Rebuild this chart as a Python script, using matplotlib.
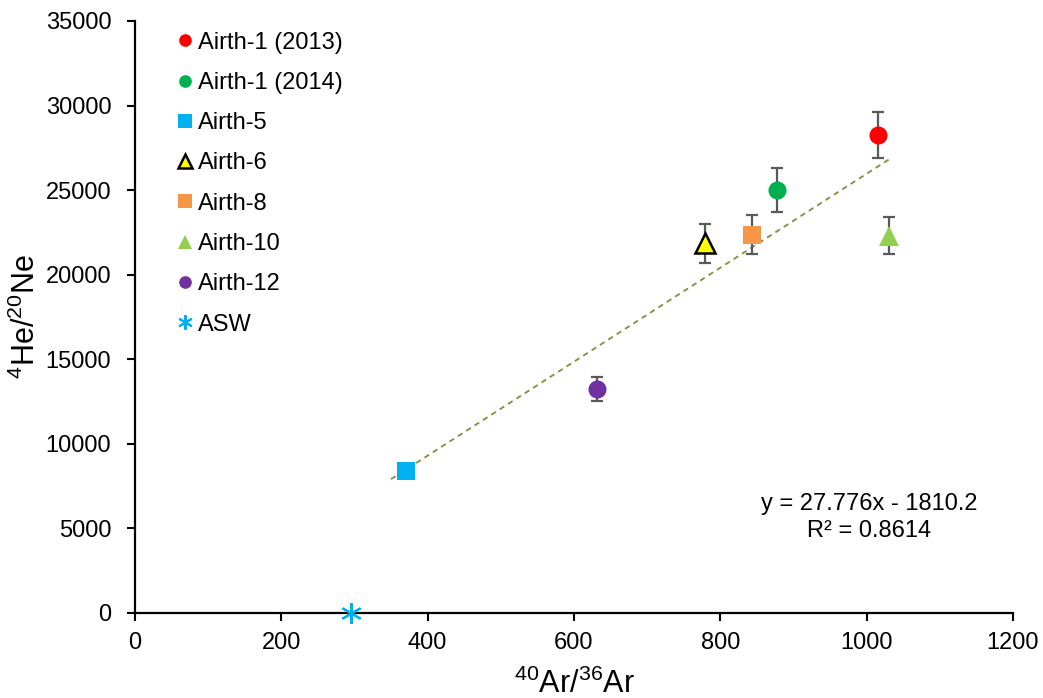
import matplotlib.pyplot as plt

plt.rcParams['font.family'] = ['Liberation Sans', 'DejaVu Sans']
plt.rcParams['mathtext.fontset'] = 'custom'
plt.rcParams['mathtext.rm'] = 'Liberation Sans'
plt.rcParams['mathtext.it'] = 'Liberation Sans'

# sample names and measured ratios
samples = ['Airth-1 (2013)', 'Airth-1 (2014)', 'Airth-5', 'Airth-6',
           'Airth-8', 'Airth-10', 'Airth-12', 'ASW']
ar_ratio = [1015, 878, 370, 779, 843, 1031, 631, 295.5]
he_ne = [28250, 25000, 8400, 21850, 22350, 22300, 13230, 0.285]
he_ne_err = [1350, 1300, 400, 1150, 1150, 1080, 700, 0]

colors = ['#FF0000', '#00B050', '#00B0F0', '#FFFF00', '#F79646', '#92D050', '#7030A0', '#00B0F0']
markers = ['o', 'o', 's', '^', 's', '^', 'o', (6, 2, 0)]
edges = ['none', 'none', 'none', 'black', 'none', 'none', 'none', '#00B0F0']
sizes = [13, 13, 13.5, 14, 13.5, 14, 13, 15]

# linear fit reported for the samples
slope = 27.776
intercept = -1810.2
r2 = 0.8614
fit_x = [350, 1032]

fig = plt.figure(figsize=(10.43, 6.98), dpi=100)
ax = fig.add_axes([0.1294, 0.1218, 0.8418, 0.8482])

ax.plot(fit_x, [slope * x + intercept for x in fit_x], linestyle=(0, (3, 2.5)),
        color='#77933C', linewidth=1.3, zorder=2)

for i, name in enumerate(samples):
    if he_ne_err[i] > 0:
        ax.errorbar(ar_ratio[i], he_ne[i], yerr=he_ne_err[i], fmt='none',
                    ecolor='#595959', elinewidth=1.6, capsize=4.5, capthick=1.6, zorder=3)
    ax.plot(ar_ratio[i], he_ne[i], linestyle='none', marker=markers[i], markersize=sizes[i],
            markerfacecolor=colors[i], markeredgecolor=edges[i],
            markeredgewidth=1.8 if edges[i] == 'black' else 1.5,
            label=name, zorder=4, clip_on=False)

ax.set_xlim(0, 1200)
ax.set_ylim(0, 35000)
ax.set_xticks(range(0, 1201, 200))
ax.set_yticks(range(0, 35001, 5000))
ax.tick_params(direction='out', length=6, width=1.5, labelsize=17, colors='black')
ax.tick_params(axis='y', pad=11)
ax.tick_params(axis='x', pad=8)
for side in ['top', 'right']:
    ax.spines[side].set_visible(False)
for side in ['left', 'bottom']:
    ax.spines[side].set_linewidth(1.6)

ax.set_xlabel(r'$^{40}$Ar/$^{36}$Ar', fontsize=22, labelpad=10)
ax.set_ylabel(r'$^{4}$He/$^{20}$Ne', fontsize=22, labelpad=3)

ax.text(1004, 5650, 'y = 27.776x - 1810.2\nR² = 0.8614', ha='center', va='center',
        fontsize=17, linespacing=1.3)

ax.legend(loc='upper left', bbox_to_anchor=(0.031, 1.01), frameon=False, fontsize=17,
          markerscale=0.7, handlelength=0.55, handletextpad=0.25, labelspacing=0.775,
          borderpad=0.2)

fig.savefig('out.png', dpi=100)
